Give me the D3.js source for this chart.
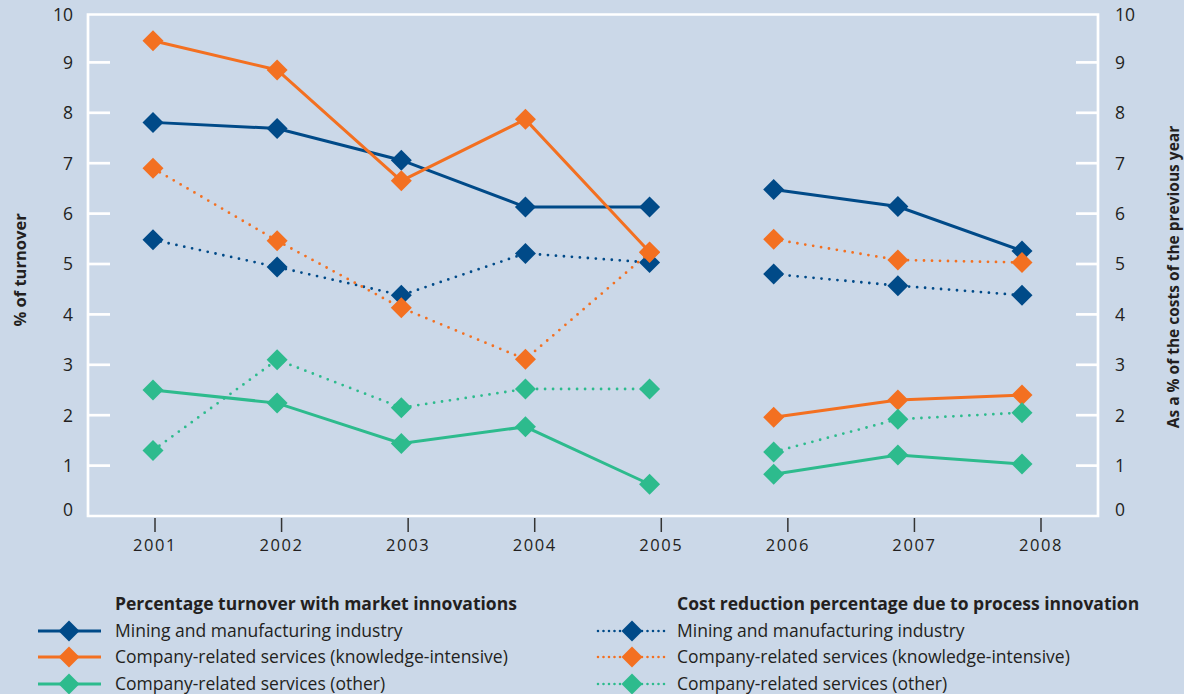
<!DOCTYPE html>
<html>
<head>
<meta charset="utf-8">
<script src="https://cdn.jsdelivr.net/npm/d3@7"></script>
<style>
  html, body { margin: 0; padding: 0; background: #cbd8e8; }
  svg { display: block; font-family: "Open Sans", "Noto Sans", sans-serif; }
</style>
</head>
<body>
<svg id="chart" width="1184" height="694"></svg>
<script>
// ---- data ----
const years = [2001, 2002, 2003, 2004, 2005, 2006, 2007, 2008];
const periods = [[2001, 2002, 2003, 2004, 2005], [2006, 2007, 2008]];
const yTicks = [0, 1, 2, 3, 4, 5, 6, 7, 8, 9, 10];

const marketMining    = [7.81, 7.69, 7.06, 6.13, 6.13, 6.48, 6.14, 5.26];
const marketKnowledge = [9.43, 8.85, 6.65, 7.87, 5.24, 1.96, 2.30, 2.40];
const marketOther     = [2.50, 2.24, 1.44, 1.77, 0.63, 0.83, 1.21, 1.03];
const costMining      = [5.48, 4.94, 4.38, 5.21, 5.03, 4.80, 4.57, 4.38];
const costKnowledge   = [6.90, 5.46, 4.13, 3.11, 5.23, 5.49, 5.08, 5.03];
const costOther       = [1.30, 3.10, 2.15, 2.52, 2.52, 1.27, 1.92, 2.05];

const seriesNames = [
  "Mining and manufacturing industry",
  "Company-related services (knowledge-intensive)",
  "Company-related services (other)"
];
const groupTitles = [
  "Percentage turnover with market innovations",
  "Cost reduction percentage due to process innovation"
];
const leftTitle = "% of turnover";
const rightTitle = "As a % of the costs of the previous year";

// ---- styles ----
const colors = ["#004a88", "#f37021", "#2dbb8d"];
const textColor = "#231f20";

const series = [
  { values: marketMining, color: colors[0], dotted: false },
  { values: marketKnowledge, color: colors[1], dotted: false },
  { values: marketOther, color: colors[2], dotted: false },
  { values: costMining, color: colors[0], dotted: true },
  { values: costKnowledge, color: colors[1], dotted: true },
  { values: costOther, color: colors[2], dotted: true }
];

const svg = d3.select("#chart");
const left = 88, right = 1098, bottom = 516, topY = 12;

const y = d3.scaleLinear().domain([0, 10]).range([bottom, topY]);
const xAxisScale = d3.scaleLinear().domain([2001, 2008]).range([155, 1041]);
const xPoint = d3.scaleLinear().domain([2001, 2008]).range([153, 1022]);

const frameTop = y(10) + 2.5;

// frame (white)
const frame = svg.append("g").attr("stroke", "#fff").attr("stroke-width", 2.7).attr("fill", "none");
frame.append("path").attr("d", `M${left},${bottom} V${frameTop} H${right} V${bottom} Z`);

// inward ticks
frame.selectAll("line.lt").data(yTicks.filter(t => t > 0 && t < 10)).join("line")
  .attr("class", "lt")
  .attr("x1", left).attr("x2", left + 22).attr("y1", d => y(d)).attr("y2", d => y(d));
frame.selectAll("line.rt").data(yTicks.filter(t => t > 0 && t < 10)).join("line")
  .attr("class", "rt")
  .attr("x1", right - 22).attr("x2", right).attr("y1", d => y(d)).attr("y2", d => y(d));

// y tick labels
const labFont = 17.5;
svg.append("g").selectAll("text").data(yTicks).join("text")
  .attr("x", 73).attr("y", d => Math.min(y(d), bottom - 6) + (d === 10 ? 3 : 0))
  .attr("dy", "0.36em").attr("text-anchor", "end")
  .attr("font-size", labFont).attr("fill", textColor)
  .text(d => d);
svg.append("g").selectAll("text").data(yTicks).join("text")
  .attr("x", 1115).attr("y", d => Math.min(y(d), bottom - 6) + (d === 10 ? 3 : 0))
  .attr("dy", "0.36em").attr("text-anchor", "start")
  .attr("font-size", labFont).attr("fill", textColor)
  .text(d => d);

// x axis ticks + labels
const xa = svg.append("g");
xa.selectAll("line").data(years).join("line")
  .attr("x1", d => xAxisScale(d)).attr("x2", d => xAxisScale(d))
  .attr("y1", bottom + 2).attr("y2", bottom + 16)
  .attr("stroke", "#333").attr("stroke-width", 1.5);
xa.selectAll("text").data(years).join("text")
  .attr("x", d => xAxisScale(d)).attr("y", 551)
  .attr("text-anchor", "middle").attr("font-size", 16.5)
  .attr("letter-spacing", "1.6px").attr("fill", textColor)
  .text(d => d);

// axis titles
svg.append("text")
  .attr("transform", `translate(26,270) rotate(-90)`)
  .attr("text-anchor", "middle").attr("font-size", 16.5).attr("font-weight", "bold")
  .attr("fill", textColor).text(leftTitle);
svg.append("text")
  .attr("transform", `translate(1179,277) rotate(-90)`)
  .attr("text-anchor", "middle").attr("font-size", 15.5).attr("font-weight", "bold")
  .attr("fill", textColor).text(rightTitle);

// diamond path
const diamond = (r) => `M0,${-r} L${r},0 L0,${r} L${-r},0 Z`;

// series
const line = d3.line().x(d => xPoint(d.year)).y(d => y(d.v));
const plot = svg.append("g");
series.forEach(s => {
  const pts = years.map((yr, i) => ({ year: yr, v: s.values[i] }));
  const g = plot.append("g");
  periods.forEach(p => {
    const seg = pts.filter(d => p.includes(d.year));
    g.append("path").datum(seg)
      .attr("d", line)
      .attr("fill", "none")
      .attr("stroke", s.color)
      .attr("stroke-width", s.dotted ? 2.8 : 3)
      .attr("stroke-linecap", s.dotted ? "round" : "butt")
      .attr("stroke-dasharray", s.dotted ? "0,8" : null);
  });
  g.selectAll("path.m").data(pts).join("path")
    .attr("class", "m")
    .attr("transform", d => `translate(${xPoint(d.year)},${y(d.v)})`)
    .attr("d", diamond(10.5))
    .attr("fill", s.color);
});

// legend
const legendCols = [
  { x0: 38, x1: 101, mx: 69, tx: 115, dotted: false },
  { x0: 598, x1: 667, mx: 632, tx: 677, dotted: true }
];
const legendFont = 17.5;
const titleY = 604, rowY = [631, 657, 684];
legendCols.forEach((c, ci) => {
  const g = svg.append("g");
  g.append("text").attr("x", c.tx).attr("y", titleY).attr("dy", "0.35em")
    .attr("font-size", legendFont).attr("font-weight", "bold").attr("fill", textColor)
    .text(groupTitles[ci]);
  seriesNames.forEach((name, i) => {
    const yy = rowY[i];
    g.append("line").attr("x1", c.x0).attr("x2", c.x1).attr("y1", yy).attr("y2", yy)
      .attr("stroke", colors[i]).attr("stroke-width", c.dotted ? 2.6 : 3)
      .attr("stroke-linecap", c.dotted ? "round" : "butt")
      .attr("stroke-dasharray", c.dotted ? "0,5.5" : null);
    g.append("path").attr("transform", `translate(${c.mx},${yy})`)
      .attr("d", diamond(10.5)).attr("fill", colors[i]);
    g.append("text").attr("x", c.tx).attr("y", yy).attr("dy", "0.35em")
      .attr("font-size", legendFont).attr("fill", textColor).text(name);
  });
});
</script>
</body>
</html>
